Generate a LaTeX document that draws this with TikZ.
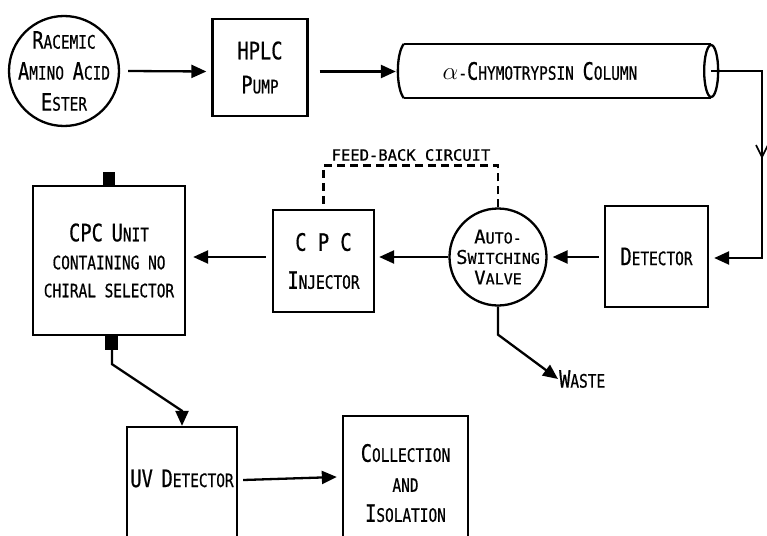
\documentclass[tikz,border=0pt]{standalone}
\usepackage{fontspec}
\setmainfont{DejaVu Sans Mono}[FakeStretch=0.78,FakeBold=0.6]
\newfontfamily\widefont{DejaVu Sans Mono}[FakeBold=0.6]
\usetikzlibrary{arrows.meta,calc}
\newcommand\Bg[1]{{\fontsize{24}{24}\selectfont #1}}
\newcommand\Bs[1]{{\fontsize{19}{19}\selectfont #1}}
\begin{document}
\begin{tikzpicture}[x=1pt,y=-1pt,line width=2.3pt,
  box/.style={draw,rectangle,align=center,inner sep=0pt,font=\fontsize{18.5}{30}\selectfont},
  rnd/.style={draw,circle,inner sep=0pt},
  lbl/.style={align=center,inner sep=0pt},
  arr/.style={-{Triangle[length=15pt,width=13pt]}},
  fb/.style={dash pattern=on 8pt off 5pt}]
\useasboundingbox (0,0) rectangle (767,535);
\clip (0,0) rectangle (767,535);
\fill[white] (0,0) rectangle (767,535);
% nodes
\node[rnd,minimum size=110,
  label={[lbl,name=ract,font=\fontsize{18.5}{31}\selectfont]center:{\Bg{R}ACEMIC\\\Bg{A}MINO \Bg{A}CID\\\Bg{E}STER}}] (rac) at (64,71) {};
\node[box,minimum width=95,minimum height=97,font=\fontsize{18.5}{34}\selectfont] (pump) at (260,67.5)
  {\Bg{HPLC}\\\Bg{P}UMP};
\node[inner sep=0pt,minimum width=310,minimum height=52,font=\fontsize{18.5}{22}\selectfont] (col) at (555,71)
  {\Bg{$\alpha$}-\Bg{C}HYMOTRYPSIN \Bg{C}OLUMN\kern30pt};
\node[box,minimum width=103,minimum height=101] (det) at (656.5,256.5) {\Bg{D}ETECTOR};
\node[rnd,minimum size=97,
  label={[lbl,name=valvet,font=\widefont\fontsize{15}{20.5}\selectfont]center:{\Bs{A}UTO-\\\Bs{S}WITCHING\\\Bs{V}ALVE}}] (valve) at (498,257) {};
\node[box,minimum width=101,minimum height=102,font=\fontsize{18.5}{38}\selectfont] (inj) at (323.5,261)
  {\Bg{C P C}\\\Bg{I}NJECTOR};
\node[box,minimum width=152,minimum height=149,font=\fontsize{18.5}{28}\selectfont] (cpc) at (109,260.5)
  {\Bg{CPC} \Bg{U}NIT\\CONTAINING NO\\CHIRAL SELECTOR};
\node[box,minimum width=110,minimum height=136] (uv) at (182,495)
  {\raisebox{8pt}[0pt][0pt]{\Bg{UV} \Bg{D}ETECTOR}};
\node[box,minimum width=125,minimum height=134] (coll) at (405.5,483)
  {\Bg{C}OLLECTION\\AND\\\Bg{I}SOLATION};
\node[font=\widefont\fontsize{15.5}{15.5}\selectfont] (fbl) at (411,155) {FEED-BACK CIRCUIT};
\node[anchor=west,inner sep=0pt,font=\fontsize{18.5}{18.5}\selectfont] (waste) at (558,379) {\Bg{W}ASTE};
% column outline
\draw ($(col.north west)+(5,0)$) -- (col.north east);
\draw ($(col.south west)+(5,0)$) -- (col.south east);
\draw ($(col.north west)+(5,0)$) .. controls ($(col.north west)+(-3,10)$) and ($(col.south west)+(-3,-10)$) .. ($(col.south west)+(5,0)$);
\draw (col.east) ellipse [x radius=7, y radius=26];
% CPC unit ports
\fill ($(cpc.north)+(-6,-13)$) rectangle ($(cpc.north)+(6,0)$);
\fill ($(cpc.south)+(-4,0)$) rectangle ($(cpc.south)+(9,14)$);
\coordinate (cpcout) at ($(cpc.south)+(3,14)$);
% connectors
\draw[arr] ($(rac.east)+(8,0)$) -- ($(pump.west)+(-5,4)$);
\draw[arr] ($(pump.east)+(11,4)$) -- ($(col.west)+(-3,0.5)$);
\coordinate (c1) at (762,71);
\coordinate (c2) at (762,258);
\draw[arr] (col.east) -- (c1) -- (c2) -- ($(det.east)+(5,1.5)$);
\draw[line width=1.7pt] ($(c1)+(-6,74)$) -- ($(c1)+(0,86)$) -- ($(c1)+(6,74)$);
\draw[arr] ($(det.west)+(-5,0.5)$) -- ($(valve.east)+(5,0)$);
\draw[arr] (valve.west) -- ($(inj.east)+(4,-4)$);
\draw[arr] ($(inj.west)+(-6,-4)$) -- ($(cpc.east)+(7,-3.5)$);
\draw[fb] (valve.north) -- ++(0,-42) -| (inj.north);
\draw[arr] (valve.south) -- ++(0,28) -- (waste.west);
\draw[arr] (cpcout) -- ++(0,14) -- ($(uv.north)+(0,-15)$) -- (uv.north);
\draw[arr] ($(uv.east)+(5,-15)$) -- ($(coll.west)+(-5,-6)$);
\end{tikzpicture}
\end{document}
